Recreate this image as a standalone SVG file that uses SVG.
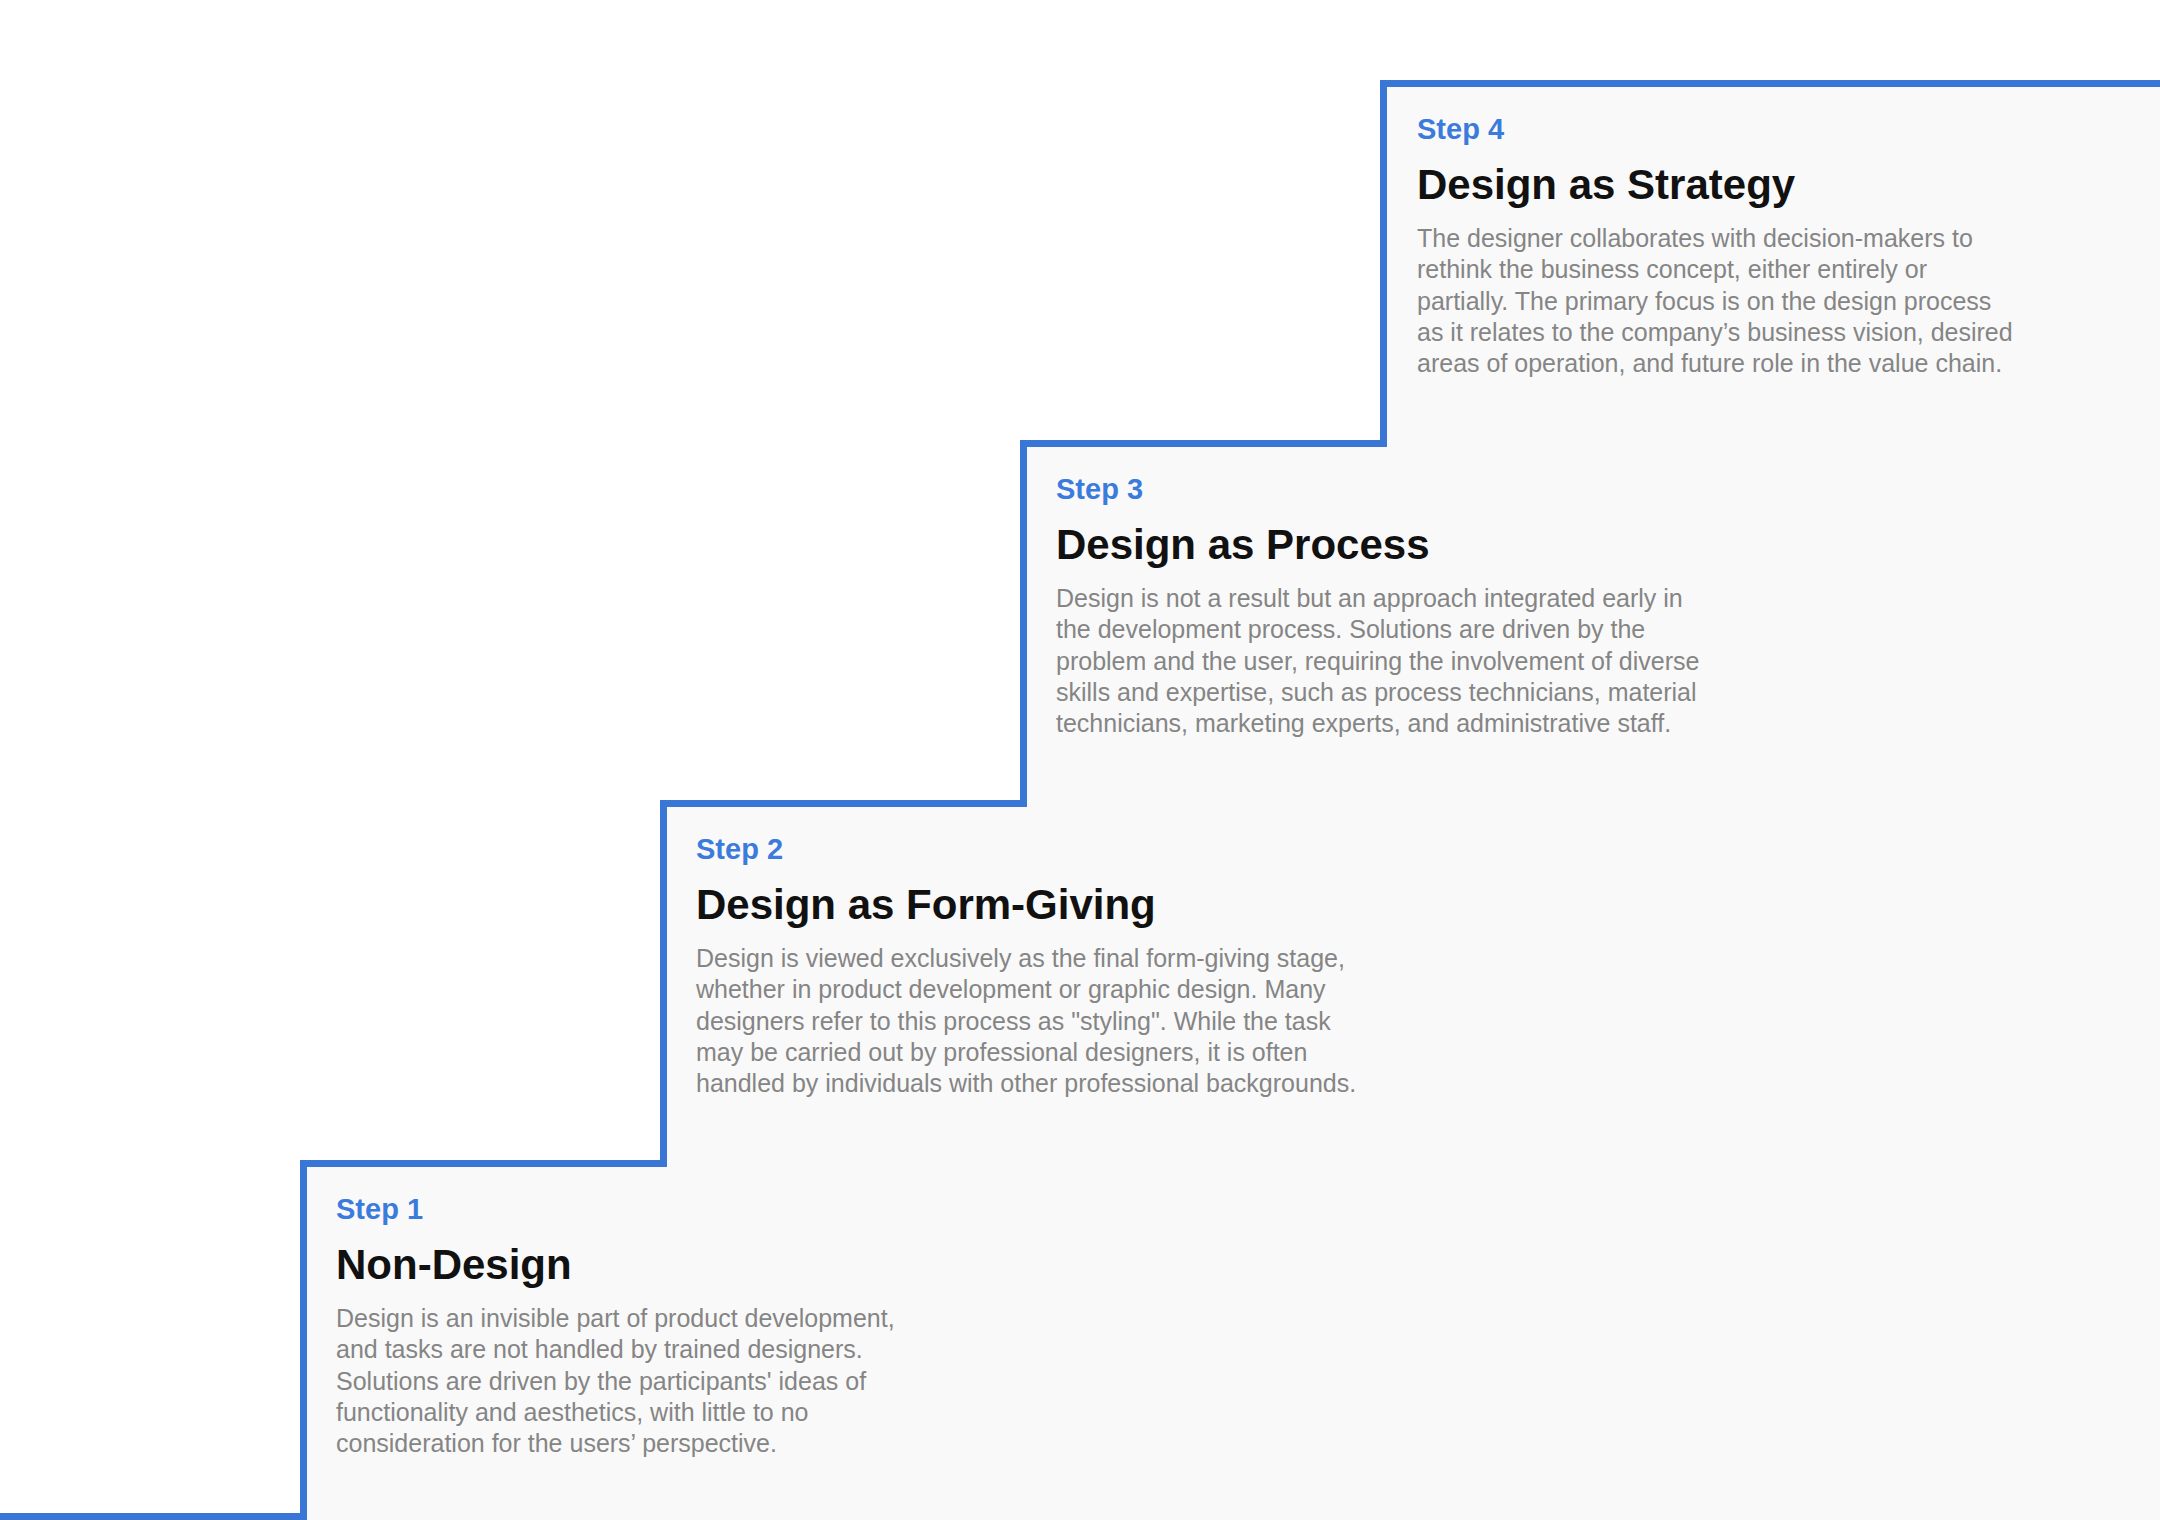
<svg xmlns="http://www.w3.org/2000/svg" width="2160" height="1520" viewBox="0 0 2160 1520">
<style>
.step{font-family:"Liberation Sans",Arial,sans-serif;font-weight:bold;font-size:29px;fill:#3a7bdc}
.title{font-family:"Liberation Sans",Arial,sans-serif;font-weight:bold;font-size:42px;fill:#111111}
.body{font-family:"Liberation Sans",Arial,sans-serif;font-size:25px;fill:#858585}
</style>
<rect x="0" y="0" width="2160" height="1520" fill="#ffffff"/>
<g id="connectors">
<path d="M0 1516.5 H303.5 V1163.5 H663.5 V803.5 H1023.5 V443.5 H1383.5 V83.5 H2160 V1520 H0 Z" fill="#f9f9f9" stroke="none"/>
<path d="M0 1516.5 H303.5 V1163.5 H663.5 V803.5 H1023.5 V443.5 H1383.5 V83.5 H2160" fill="none" stroke="#3a76d6" stroke-width="7" stroke-linejoin="miter"/>
</g>
<g id="step1">
<text class="step" x="336" y="1219">Step 1</text>
<text class="title" x="336" y="1279">Non-Design</text>
<text class="body" x="336" y="1327">Design is an invisible part of product development,</text>
<text class="body" x="336" y="1358.3">and tasks are not handled by trained designers.</text>
<text class="body" x="336" y="1389.6">Solutions are driven by the participants' ideas of</text>
<text class="body" x="336" y="1420.9">functionality and aesthetics, with little to no</text>
<text class="body" x="336" y="1452.2">consideration for the users’ perspective.</text>
</g>
<g id="step2">
<text class="step" x="696" y="859">Step 2</text>
<text class="title" x="696" y="919">Design as Form-Giving</text>
<text class="body" x="696" y="967">Design is viewed exclusively as the final form-giving stage,</text>
<text class="body" x="696" y="998.3">whether in product development or graphic design. Many</text>
<text class="body" x="696" y="1029.6">designers refer to this process as "styling". While the task</text>
<text class="body" x="696" y="1060.9">may be carried out by professional designers, it is often</text>
<text class="body" x="696" y="1092.2">handled by individuals with other professional backgrounds.</text>
</g>
<g id="step3">
<text class="step" x="1056" y="499">Step 3</text>
<text class="title" x="1056" y="559">Design as Process</text>
<text class="body" x="1056" y="607">Design is not a result but an approach integrated early in</text>
<text class="body" x="1056" y="638.3">the development process. Solutions are driven by the</text>
<text class="body" x="1056" y="669.6">problem and the user, requiring the involvement of diverse</text>
<text class="body" x="1056" y="700.9">skills and expertise, such as process technicians, material</text>
<text class="body" x="1056" y="732.2">technicians, marketing experts, and administrative staff.</text>
</g>
<g id="step4">
<text class="step" x="1417" y="139">Step 4</text>
<text class="title" x="1417" y="199">Design as Strategy</text>
<text class="body" x="1417" y="247">The designer collaborates with decision-makers to</text>
<text class="body" x="1417" y="278.3">rethink the business concept, either entirely or</text>
<text class="body" x="1417" y="309.6">partially. The primary focus is on the design process</text>
<text class="body" x="1417" y="340.9">as it relates to the company’s business vision, desired</text>
<text class="body" x="1417" y="372.2">areas of operation, and future role in the value chain.</text>
</g>
</svg>
